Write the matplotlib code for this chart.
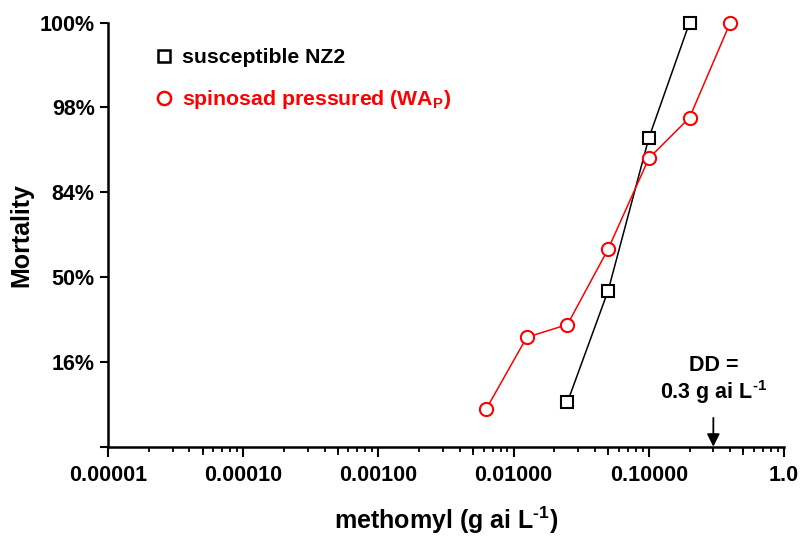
import numpy as np
import matplotlib
matplotlib.use('Agg')
import matplotlib.pyplot as plt
from matplotlib.lines import Line2D
from matplotlib.ticker import LogLocator, FixedLocator, FixedFormatter, NullFormatter, NullLocator

plt.rcParams['font.family'] = ['Liberation Sans', 'DejaVu Sans']
plt.rcParams['font.weight'] = 'bold'
plt.rcParams['mathtext.fontset'] = 'custom'
plt.rcParams['mathtext.rm'] = 'Liberation Sans:bold'
plt.rcParams['mathtext.bf'] = 'Liberation Sans:bold'

# 数据：剂量 (g ai/L) 与 死亡率（概率单位 probit）
nz2_dose = [0.025, 0.05, 0.1, 0.2]
nz2_probit = [-1.475, -0.16, 1.64, 3.0]
wap_dose = [0.00625, 0.0125, 0.025, 0.05, 0.1, 0.2, 0.4]
wap_probit = [-1.56, -0.71, -0.56, 0.33, 1.40, 1.88, 3.0]

y_ticks = [-2, -1, 0, 1, 2, 3]
y_labels = ['', '16%', '50%', '84%', '98%', '100%']
x_ticks = [1e-5, 1e-4, 1e-3, 1e-2, 1e-1, 1.0]
x_labels = ['0.00001', '0.00010', '0.00100', '0.01000', '0.10000', '1.0']
x_mid_ticks = [5e-5, 5e-4, 5e-3, 5e-2, 5e-1]
dd_dose = 0.3

fig = plt.figure(figsize=(8.02, 5.40), dpi=100)
ax = fig.add_axes([0.1347, 0.1728, 0.8429, 0.7852])

ax.plot(nz2_dose, nz2_probit, color='black', lw=1.1, marker='s', ms=9,
        mfc='white', mec='black', mew=1.5, zorder=3, clip_on=False)
ax.plot(wap_dose, wap_probit, color='red', lw=1.1, marker='o', ms=9.5,
        mfc='white', mec='red', mew=1.5, zorder=3, clip_on=False)

ax.set_xscale('log')
ax.set_xlim(1e-5, 1.0)
ax.set_ylim(-2, 3)

ax.xaxis.set_major_locator(FixedLocator(x_ticks))
ax.xaxis.set_major_formatter(FixedFormatter(x_labels))
ax.xaxis.set_minor_locator(LogLocator(base=10, subs=np.arange(2, 10)))
ax.xaxis.set_minor_formatter(NullFormatter())
ax.set_yticks(y_ticks)
ax.set_yticklabels(y_labels)

for s in ['top', 'right']:
    ax.spines[s].set_visible(False)
for s in ['left', 'bottom']:
    ax.spines[s].set_linewidth(1.8)

ax.tick_params(axis='both', which='major', length=6, width=1.5, labelsize=15.5)
ax.tick_params(axis='x', which='major', length=7.5)
ax.tick_params(axis='x', which='minor', length=3.8, width=1.3)
ax.tick_params(axis='x', pad=6)

# 5 倍处稍长的刻度
sec = ax.secondary_xaxis('bottom')
sec.set_xticks(x_mid_ticks)
sec.xaxis.set_minor_locator(NullLocator())
sec.tick_params(axis='x', length=5.5, width=1.3, labelbottom=False)
sec.spines['bottom'].set_visible(False)

ax.set_xlabel('methomyl (g ai L$^{\u2010 1}$)', fontsize=18, fontweight='bold', labelpad=13)
ax.set_ylabel('Mortality', fontsize=18, fontweight='bold')
ax.yaxis.set_label_coords(-0.111, 0.5)

# 图例
handles = [Line2D([], [], ls='none', marker='s', ms=9, mfc='white', mec='black', mew=1.8),
           Line2D([], [], ls='none', marker='o', ms=9.5, mfc='white', mec='red', mew=1.8)]
leg = ax.legend(handles, ['susceptible NZ2', 'spinosad pressured (WA$_\\mathbf{P}$)'],
                loc='upper left', bbox_to_anchor=(0.042, 0.985), frameon=False,
                prop={'size': 15.3, 'weight': 'bold'}, handlelength=0.8,
                handletextpad=0.45, labelspacing=1.0)
for t, c in zip(leg.get_texts(), ['black', 'red']):
    t.set_color(c)

# 判别剂量箭头
ax.annotate('', xy=(dd_dose, -2), xytext=(dd_dose, -1.66),
            arrowprops=dict(arrowstyle='-|>', color='black', lw=1.3, mutation_scale=19,
                            shrinkA=0, shrinkB=0))
ax.text(dd_dose, -1.52, 'DD =\n0.3 g ai L$^{\u2010 1}$', ha='center', va='bottom',
        fontsize=15.5, fontweight='bold', linespacing=1.1)

fig.savefig('out.png', dpi=100)
